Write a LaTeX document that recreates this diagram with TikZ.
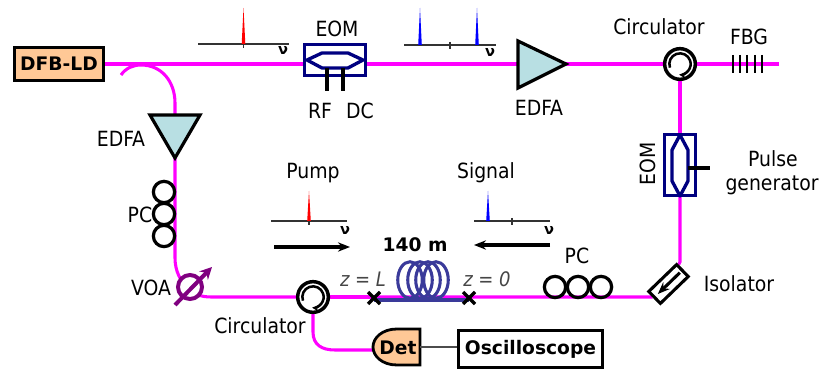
\documentclass[tikz,border=0pt]{standalone}
\usepackage{fontspec}
\setmainfont{DejaVu Sans Condensed}
\newfontfamily\boldlabel{DejaVu Sans Bold}
\usetikzlibrary{arrows.meta,backgrounds,calc}
\definecolor{fibrecol}{RGB}{255,0,255}
\definecolor{eomcol}{RGB}{0,0,128}
\definecolor{peachcol}{RGB}{255,200,150}
\definecolor{ampcol}{RGB}{184,223,227}
\definecolor{coilcol}{RGB}{58,58,154}
\definecolor{voacol}{RGB}{128,0,128}
\definecolor{zcol}{RGB}{70,70,70}
\tikzset{
  fibre/.style={draw=fibrecol, line width=2.3pt},
  lbl/.style={font=\fontsize{15.7}{17}\selectfont, inner sep=0pt},
  zlbl/.style={font=\fontsize{15}{16}\selectfont\itshape, text=zcol, inner sep=0pt},
  nulbl/.style={font=\boldlabel\fontsize{11}{11}\selectfont, inner sep=0pt},
  boldbox/.style={draw, line width=2.1pt, inner sep=0pt, font=\boldlabel\fontsize{14}{16}\selectfont},
  eombox/.style={draw=eomcol, fill=white, line width=2.1pt, inner sep=0pt},
  eompath/.style={draw=eomcol, line width=2.5pt, line join=round},
  ampbox/.style={draw, fill=ampcol, line width=2.4pt, line join=miter},
  ring/.style={circle, draw, fill=none, line width=2.4pt, minimum size=16pt, inner sep=0pt},
  circbox/.style={circle, draw, fill=white, line width=2.6pt, minimum size=23pt, inner sep=0pt},
  axisline/.style={draw=black!80, line width=1.1pt},
  dirarrow/.style={-{Stealth[length=9pt,width=7pt]}, line width=2.3pt},
  crossmark/.style={line width=2.6pt},
}
\begin{document}
\begin{tikzpicture}[x=0.75pt, y=-0.75pt]
  \useasboundingbox (0,0) rectangle (822,370);

  % Source and upper branch
  \node[boldbox, fill=peachcol, minimum width=67pt, minimum height=25pt] (dfb) at (59,64) {DFB-LD};
  \node[eombox, minimum width=46pt, minimum height=23pt] (eoma) at (335,60) {};
  \draw[eompath] (307,60) -- (322,53) -- (348,53) -- (363,60) -- (348,68) -- (322,68) -- cycle;
  \draw[line width=2.3pt] (327,68) -- (327,91);
  \draw[line width=2.3pt] (343,68) -- (343,91);
  \node[lbl] (eomatxt) at (337,29) {EOM};
  \node[lbl] (rftxt) at (320,111) {RF};
  \node[lbl] (dctxt) at (360,111) {DC};

  \draw[ampbox] (518,41) -- (518,88) -- (566,64) -- cycle;
  \coordinate (ampain) at (518,64);
  \coordinate (ampaout) at (566,64);
  \node[lbl] (ampatxt) at (539,108) {EDFA};

  % Circulators
  \foreach \name/\cx/\cy in {circa/680/64, circb/313/297}
  {
    \node[circbox] (\name) at (\cx,\cy) {};
    \draw[line width=1.9pt, -{Stealth[length=5pt,width=5pt]}]
      ($(\name)+(200:8pt)$) arc[start angle=200, end angle=-95, radius=8pt];
  }
  \node[lbl] (circatxt) at (659,27) {Circulator};
  \node[lbl] (circbtxt) at (260,326) {Circulator};

  % FBG
  \coordinate (fbgend) at (779,64);
  \foreach \x in {733,740,747,755,762}
    \draw[line width=1.9pt] (\x,55) -- (\x,73);
  \node[lbl] (fbgtxt) at (749,37) {FBG};

  % Second EOM
  \node[eombox, minimum width=23.5pt, minimum height=46pt] (eomb) at (680,165) {};
  \draw[eompath] (680,135) -- (688,150) -- (688,181) -- (680,196) -- (672,181) -- (672,150) -- cycle;
  \draw[line width=2.3pt] (688,168) -- (710,168);
  \node[lbl, rotate=90] (eombtxt) at (648,164) {EOM};
  \node[lbl] (pulsetxt) at (773,159) {Pulse};
  \node[lbl] (gentxt) at (772,185) {generator};

  % Isolator
  \node[draw, fill=white, rotate=44, line width=2.3pt, minimum width=29pt, minimum height=12.5pt, inner sep=0pt] (iso) at (668.5,284) {};
  \coordinate (isotip) at (652,297);
  \draw[dirarrow] ($(iso)+(8.5pt,8.5pt)$) -- ($(iso)+(-8pt,-7.5pt)$);
  \node[lbl] (isotxt) at (739,284) {Isolator};

  % Left branch
  \coordinate (tapstart) at (121,75);
  \draw[ampbox] (150,115) -- (200,115) -- (175,158) -- cycle;
  \coordinate (ampbin) at (175,115);
  \coordinate (ampbout) at (175,158);
  \node[lbl] (ampbtxt) at (121,139) {EDFA};
  \foreach \y in {192,214,236}
    \node[ring] (pcb\y) at (164,\y) {};
  \node[lbl] (pcbtxt) at (140,215) {PC};

  % VOA
  \node[circle, draw=voacol, fill=white, line width=3pt, minimum size=18pt, inner sep=0pt] (voa) at (190,287) {};
  \draw[voacol, line width=3pt, -{Stealth[length=9pt,width=9pt]}] (175,305) -- (212,267);
  \node[lbl] (voatxt) at (151,288) {VOA};

  % Fibre under test
  \coordinate (zl) at (374,298);
  \coordinate (zo) at (469,298);
  \foreach \x in {410,420,428,436}
    \draw[coilcol, line width=2.3pt] (\x,280) ellipse (9.2pt and 13.7pt);
  \draw[coilcol, line width=2.8pt] (374,300) -- (469,300);
  \foreach \p in {zl,zo}
  {
    \draw[crossmark] ($(\p)+(-4.5pt,-4.5pt)$) -- ($(\p)+(4.5pt,4.5pt)$);
    \draw[crossmark] ($(\p)+(-4.5pt,4.5pt)$) -- ($(\p)+(4.5pt,-4.5pt)$);
  }
  \node[boldbox, draw=none] (lentxt) at (415,245) {140 m};
  \node[zlbl] (zltxt) at (363,279) {z = L};
  \node[zlbl] (zotxt) at (487,279) {z = 0};

  % Lower polarisation controller
  \foreach \x in {555,578,601}
    \node[ring] (pca\x) at (\x,287) {};
  \node[lbl] (pcatxt) at (577,256) {PC};

  % Detection
  \draw[fill=peachcol, line width=2.1pt] (420,329) -- (397,329) .. controls (382,329) and (373,338) .. (373,347)
    .. controls (373,356) and (382,365) .. (397,365) -- (420,365) -- cycle;
  \coordinate (detin) at (373,350);
  \coordinate (detout) at (420,347);
  \node[boldbox, draw=none] (dettxt) at (398,348) {Det};
  \node[boldbox, minimum width=108pt, minimum height=27.5pt] (scope) at (530.5,349) {Oscilloscope};
  \draw[black!70, line width=1.2pt] (detout) -- (detout -| scope.west);

  % Spectra
  \foreach \xa/\xb/\ya in {198/289/44, 404/496/45, 271/347/221, 474/550/221}
    \draw[axisline] (\xa,\ya) -- (\xb,\ya);
  \foreach \x/\ya/\yb in {243.5/41/48, 450/42/49, 309/218/225, 512/218/225}
    \draw[axisline] (\x,\ya) -- (\x,\yb);
  \foreach \x/\ya/\ytop/\col in {243.5/44/8/red, 420/45/8/blue, 477/45/8/blue, 309/221/191/red, 488/221/191/blue}
    \fill[\col] (\x-1.8,\ya) -- (\x,\ytop) -- (\x+1.8,\ya) -- cycle;
  \node[nulbl] (nua) at (283,50) {ν};
  \node[nulbl] (nub) at (490,52) {ν};
  \node[nulbl] (nuc) at (345,230) {ν};
  \node[nulbl] (nud) at (549,230) {ν};
  \node[lbl] (pumptxt) at (313,173) {Pump};
  \node[lbl] (signaltxt) at (486,173) {Signal};
  \coordinate (arra) at (274,247);
  \coordinate (arrb) at (350,247);
  \coordinate (arrc) at (550,245);
  \coordinate (arrd) at (474,245);
  \draw[dirarrow] (arra) -- (arrb);
  \draw[dirarrow] (arrc) -- (arrd);

  % Fibre runs
  \begin{pgfonlayer}{background}
    \draw[fibre] (dfb) -- (eoma.west |- dfb);
    \draw[fibre] (eoma.east |- dfb) -- (ampain);
    \draw[fibre] (ampaout) -- (circa);
    \draw[fibre] (circa) -- (fbgend);
    \draw[fibre] (circa) -- (eomb);
    \draw[fibre] (eomb) -- (680,262) -- (iso);
    \draw[fibre] (iso) -- (isotip) -- (circb);
    \draw[fibre] (tapstart) .. controls (126,68) and (133,65) .. (141,65)
      .. controls (162,65) and (175,82) .. (175,103) -- (ampbin);
    \draw[fibre] (ampbout) -- (175,258) .. controls (175,270) and (180,283) .. (190,288)
      .. controls (197,297) and (205,297) .. (214,297) -- (circb);
    \draw[fibre] (circb) -- (zl |- circb);
    \draw[fibre] (circb) -- (313,332) .. controls (313,345) and (322,350) .. (335,350) -- (detin);
  \end{pgfonlayer}
\end{tikzpicture}
\end{document}
